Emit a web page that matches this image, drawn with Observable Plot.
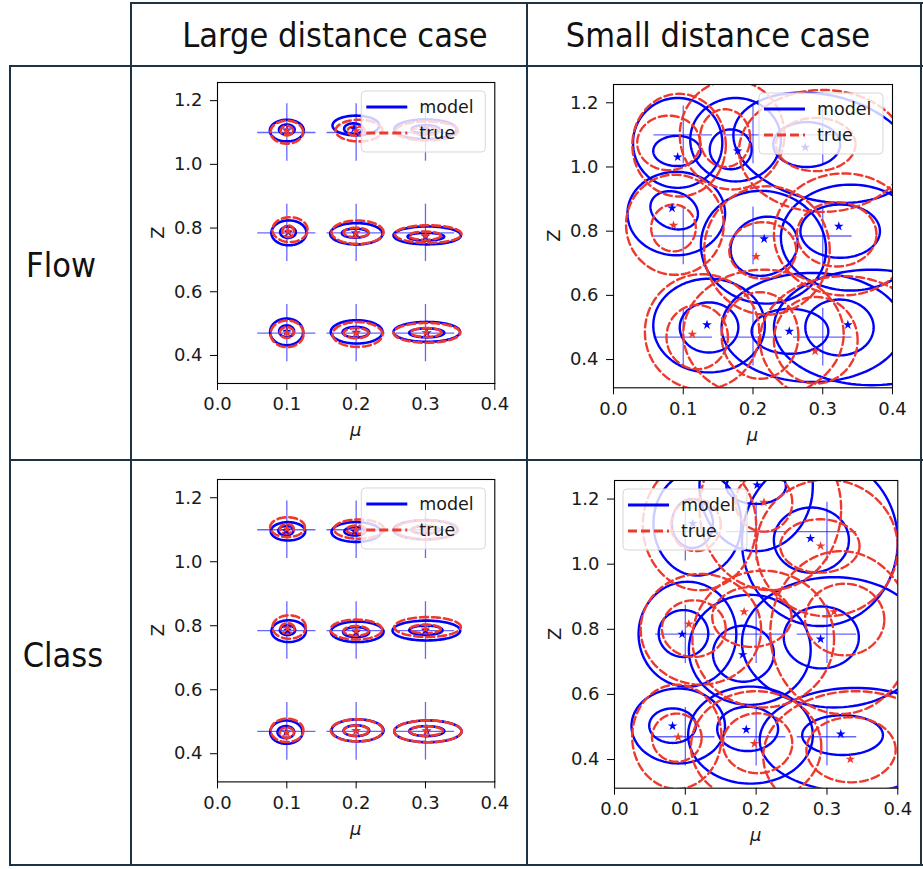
<!DOCTYPE html>
<html><head><meta charset="utf-8">
<script src="https://cdn.jsdelivr.net/npm/d3@7"></script>
<script src="https://cdn.jsdelivr.net/npm/@observablehq/plot@0.6"></script>
<style>
body{margin:0;background:#fff;}
#page{position:relative;width:923px;height:869px;overflow:hidden;background:#fff;}
.b{position:absolute;background:#1d3344;}
.hd{position:absolute;font-family:"Liberation Sans Narrow","DejaVu Sans Condensed",sans-serif;font-size:34px;color:#111;white-space:nowrap;transform:translate(-50%,-50%);}
.panel{position:absolute;}
</style></head><body><div id="page"></div>
<script>
// ---------------- data ----------------
const columnTitles = ["Large distance case", "Small distance case"];
const rowTitles = ["Flow", "Class"];
const muTicks = [0, 0.1, 0.2, 0.3, 0.4];
const zTicks = [0.4, 0.6, 0.8, 1.0, 1.2];
const gridMu = [0.1, 0.2, 0.3];
const gridZ = [0.47, 0.785, 1.1];
const armMu = 0.042, armZ = 0.09;
const legendLabels = ["model", "true"];

// contour rings: [mu, Z, radius mu, radius Z, tilt deg]
const flowLargeModelRings = [
  [0.1, 1.109, 0.0113, 0.016, 0], [0.1, 1.106, 0.0245, 0.034, 0],
  [0.196, 1.112, 0.0133, 0.0167, 0], [0.1996, 1.122, 0.0337, 0.031, 0],
  [0.3, 1.11, 0.02, 0.013, 0], [0.3, 1.11, 0.045, 0.031, 0],
  [0.1017, 0.787, 0.0113, 0.0178, 0], [0.103, 0.785, 0.0253, 0.039, 0],
  [0.1986, 0.784, 0.0192, 0.0141, 0], [0.2003, 0.782, 0.0378, 0.0335, 0],
  [0.3006, 0.773, 0.0264, 0.012, 0], [0.3025, 0.777, 0.0486, 0.0282, 0],
  [0.0997, 0.476, 0.0108, 0.0183, 0], [0.0997, 0.474, 0.0238, 0.0418, 0],
  [0.1996, 0.473, 0.0192, 0.0166, 0], [0.2007, 0.474, 0.0373, 0.0366, 0],
  [0.3018, 0.471, 0.0253, 0.0141, 0], [0.302, 0.474, 0.048, 0.0313, 0]
];
const flowLargeTrueRings = [
  [0.1, 1.106, 0.009, 0.015, 0], [0.1, 1.101, 0.0235, 0.036, 0],
  [0.2, 1.105, 0.0125, 0.015, 0], [0.204, 1.106, 0.0337, 0.034, 0],
  [0.3, 1.105, 0.019, 0.013, 0], [0.302, 1.105, 0.045, 0.03, 0],
  [0.102, 0.79, 0.0084, 0.018, 0], [0.1046, 0.795, 0.0253, 0.039, 0],
  [0.2, 0.786, 0.018, 0.015, 0], [0.202, 0.787, 0.0375, 0.0366, 0],
  [0.2994, 0.776, 0.0229, 0.013, 0], [0.304, 0.781, 0.048, 0.0277, 0],
  [0.1, 0.472, 0.01, 0.017, 0], [0.1004, 0.468, 0.0238, 0.0418, 0],
  [0.2, 0.47, 0.018, 0.016, 0], [0.202, 0.466, 0.036, 0.039, 0],
  [0.301, 0.472, 0.022, 0.014, 0], [0.302, 0.471, 0.048, 0.031, 0]
];
const classLargeModelRings = [
  [0.0986, 1.097, 0.0108, 0.0145, 0], [0.1017, 1.095, 0.0248, 0.0287, 0],
  [0.198, 1.095, 0.015, 0.013, 0], [0.2, 1.093, 0.0356, 0.031, 0],
  [0.3, 1.1, 0.02, 0.012, 0], [0.3, 1.1, 0.046, 0.03, 0],
  [0.101, 0.786, 0.011, 0.015, 0], [0.1026, 0.783, 0.0248, 0.034, 0],
  [0.2, 0.78, 0.0188, 0.0156, 0], [0.2015, 0.781, 0.038, 0.032, 0],
  [0.3006, 0.786, 0.024, 0.0146, 0], [0.3013, 0.785, 0.0488, 0.031, 0],
  [0.0986, 0.4675, 0.012, 0.0188, 0], [0.0993, 0.4675, 0.0233, 0.0365, 0],
  [0.2003, 0.472, 0.0185, 0.0167, 0], [0.202, 0.473, 0.0375, 0.0344, 0],
  [0.3018, 0.4706, 0.0253, 0.0156, 0], [0.3035, 0.47, 0.0486, 0.034, 0]
];
const classLargeTrueRings = [
  [0.1, 1.103, 0.01, 0.015, 0], [0.101, 1.108, 0.025, 0.031, 0],
  [0.2, 1.1, 0.014, 0.013, 0], [0.204, 1.102, 0.036, 0.03, 0],
  [0.3, 1.1, 0.019, 0.012, 0], [0.302, 1.1, 0.045, 0.03, 0],
  [0.101, 0.792, 0.01, 0.016, 0], [0.1033, 0.796, 0.024, 0.0365, 0],
  [0.2, 0.784, 0.018, 0.015, 0], [0.2003, 0.788, 0.0373, 0.031, 0],
  [0.3, 0.79, 0.022, 0.0135, 0], [0.303, 0.796, 0.048, 0.031, 0],
  [0.1, 0.466, 0.01, 0.016, 0], [0.1004, 0.473, 0.0235, 0.0365, 0],
  [0.2, 0.472, 0.018, 0.016, 0], [0.201, 0.473, 0.0375, 0.0344, 0],
  [0.301, 0.471, 0.024, 0.015, 0], [0.3035, 0.47, 0.0486, 0.034, 0]
];
const flowSmallModelRings = [
  [0.091, 1.05, 0.034, 0.047, 0], [0.092, 1.075, 0.064, 0.14, 0],
  [0.168, 1.055, 0.030, 0.062, 0], [0.175, 1.085, 0.065, 0.13, 0],
  [0.277, 1.07, 0.048, 0.07, 0], [0.3, 1.06, 0.13, 0.165, -12],
  [0.087, 0.865, 0.035, 0.057, -20], [0.09, 0.855, 0.07, 0.13, 0],
  [0.216, 0.753, 0.049, 0.09, 20], [0.215, 0.75, 0.09, 0.175, -10],
  [0.325, 0.80, 0.057, 0.083, 0], [0.34, 0.78, 0.1, 0.165, 0],
  [0.137, 0.50, 0.042, 0.078, 0], [0.137, 0.506, 0.08, 0.146, 0],
  [0.253, 0.488, 0.055, 0.07, 0], [0.285, 0.5, 0.13, 0.17, 0],
  [0.324, 0.50, 0.049, 0.087, 0], [0.37, 0.5, 0.14, 0.18, 0]
];
const flowSmallTrueRings = [
  [0.079, 1.075, 0.045, 0.085, 0], [0.094, 1.068, 0.067, 0.16, 0],
  [0.16, 1.09, 0.036, 0.09, 0], [0.17, 1.1, 0.075, 0.17, 0],
  [0.29, 1.07, 0.057, 0.083, 0], [0.3, 1.05, 0.12, 0.19, 0],
  [0.086, 0.81, 0.032, 0.073, 0], [0.088, 0.82, 0.07, 0.156, 0],
  [0.214, 0.74, 0.048, 0.088, 0], [0.22, 0.74, 0.09, 0.2, 0],
  [0.32, 0.79, 0.057, 0.1, 0], [0.33, 0.79, 0.1, 0.19, 0],
  [0.12, 0.47, 0.044, 0.1, 0], [0.127, 0.486, 0.082, 0.18, 0],
  [0.21, 0.475, 0.055, 0.135, 0], [0.215, 0.48, 0.115, 0.2, 0],
  [0.29, 0.46, 0.06, 0.135, 0], [0.33, 0.46, 0.12, 0.2, 0]
];
const classSmallModelRings = [
  [0.11, 1.125, 0.029, 0.075, 0], [0.117, 1.125, 0.062, 0.16, 0],
  [0.2, 1.24, 0.042, 0.055, 0], [0.2, 1.24, 0.08, 0.2, 0],
  [0.278, 1.074, 0.053, 0.1, 0], [0.29, 1.07, 0.11, 0.26, 0],
  [0.0974, 0.787, 0.035, 0.072, 0], [0.103, 0.785, 0.069, 0.161, 0],
  [0.182, 0.725, 0.043, 0.086, 0], [0.191, 0.737, 0.086, 0.169, 0],
  [0.292, 0.775, 0.053, 0.095, 0], [0.31, 0.76, 0.13, 0.2, 0],
  [0.082, 0.504, 0.033, 0.053, 0], [0.09, 0.503, 0.066, 0.115, 0],
  [0.188, 0.494, 0.043, 0.068, 0], [0.192, 0.475, 0.088, 0.149, 0],
  [0.322, 0.475, 0.057, 0.061, 0], [0.34, 0.46, 0.135, 0.16, 0]
];
const classSmallTrueRings = [
  [0.115, 1.12, 0.035, 0.08, 0], [0.12, 1.12, 0.08, 0.2, 0],
  [0.211, 1.19, 0.04, 0.09, 0], [0.22, 1.17, 0.1, 0.25, 0],
  [0.29, 1.056, 0.056, 0.082, 0], [0.3, 1.05, 0.1, 0.21, 0],
  [0.112, 0.802, 0.045, 0.087, 0], [0.122, 0.8, 0.085, 0.17, 0],
  [0.194, 0.838, 0.056, 0.092, 0], [0.21, 0.77, 0.1, 0.21, 0],
  [0.325, 0.83, 0.056, 0.11, 0], [0.32, 0.79, 0.1, 0.25, 0],
  [0.088, 0.467, 0.035, 0.074, 0], [0.088, 0.47, 0.063, 0.16, 0],
  [0.202, 0.45, 0.049, 0.092, 0], [0.2, 0.44, 0.092, 0.17, 0],
  [0.334, 0.43, 0.063, 0.1, 0], [0.34, 0.41, 0.13, 0.2, 0]
];
// star markers (cluster means): [mu, Z]
const flowLargeModelStars = [[0.1,1.108],[0.197,1.112],[0.3,1.11],[0.102,0.787],[0.199,0.784],[0.3,0.774],[0.1,0.476],[0.2,0.473],[0.302,0.471]];
const flowLargeTrueStars = [[0.1,1.105],[0.2,1.105],[0.3,1.105],[0.102,0.79],[0.2,0.786],[0.3,0.776],[0.1,0.472],[0.2,0.47],[0.301,0.472]];
const classLargeModelStars = [[0.099,1.097],[0.198,1.095],[0.3,1.1],[0.101,0.786],[0.2,0.78],[0.3,0.786],[0.099,0.468],[0.2,0.472],[0.302,0.471]];
const classLargeTrueStars = [[0.1,1.103],[0.2,1.1],[0.3,1.1],[0.101,0.792],[0.2,0.784],[0.3,0.79],[0.1,0.466],[0.2,0.472],[0.301,0.471]];
const flowSmallModelStars = [[0.092,1.031],[0.178,1.05],[0.275,1.061],[0.084,0.872],[0.216,0.776],[0.323,0.815],[0.134,0.508],[0.252,0.488],[0.336,0.508]];
const flowSmallTrueStars = [[0.086,0.818],[0.2045,0.721],[0.113,0.479],[0.289,0.426]];
const classSmallModelStars = [[0.1106,1.125],[0.2014,1.243],[0.2767,1.079],[0.0955,0.785],[0.181,0.722],[0.291,0.77],[0.082,0.503],[0.186,0.492],[0.3195,0.478]];
const classSmallTrueStars = [[0.211,1.19],[0.291,1.056],[0.105,0.816],[0.183,0.854],[0.31,0.854],[0.0899,0.469],[0.1976,0.449],[0.333,0.401]];

// ---------------- layout ----------------
const BLUE = "#0000ff", RED = "#ee3a2e", INK = "#1a1a1a", FS = 18;
const page = document.getElementById("page");
function box(l, t, w, h) { const d = document.createElement("div"); d.className = "b";
  Object.assign(d.style, {left: l + "px", top: t + "px", width: w + "px", height: h + "px"}); page.appendChild(d); }
box(130, 2, 793, 2); box(9, 65, 914, 2); box(9, 459, 914, 2); box(9, 864, 914, 2);
box(9, 65, 2, 801); box(130, 2, 2, 864); box(526, 2, 2, 864); box(920, 2, 2, 864);
function label(txt, x, y) { const d = document.createElement("div"); d.className = "hd"; d.textContent = txt;
  Object.assign(d.style, {left: x + "px", top: y + "px"}); page.appendChild(d); }
label(columnTitles[0], 335, 35); label(columnTitles[1], 718, 35);
label(rowTitles[0], 61, 265); label(rowTitles[1], 63, 655);

const SX = 700, SY = 320;
function ringPoints(rings) {
  const pts = [];
  rings.forEach((r, i) => {
    const [mu, z, rx, ry, tilt] = r, a = tilt * Math.PI / 180, N = 120;
    for (let k = 0; k <= N; k++) {
      const t = 2 * Math.PI * k / N;
      const u = rx * Math.cos(t) * SX, v = ry * Math.sin(t) * SY;
      pts.push({id: i, mu: mu + (u * Math.cos(a) - v * Math.sin(a)) / SX, z: z + (u * Math.sin(a) + v * Math.cos(a)) / SY});
    }
  });
  return pts;
}
const crosses = d3.cross(gridMu, gridZ).map(([m, z]) => ({mu: m, z}));
const fmt = d3.format(".1f");

const panels = [
  {x0: 216.7, x1: 494, y0: 81.7, y1: 382.7, m: flowLargeModelRings, t: flowLargeTrueRings, ms: flowLargeModelStars, ts: flowLargeTrueStars, leg: "right", lw: 2.6},
  {x0: 613.3, x1: 892.3, y0: 84, y1: 387.3, m: flowSmallModelRings, t: flowSmallTrueRings, ms: flowSmallModelStars, ts: flowSmallTrueStars, leg: "right", lw: 2.4},
  {x0: 216.7, x1: 494, y0: 479.3, y1: 781.7, m: classLargeModelRings, t: classLargeTrueRings, ms: classLargeModelStars, ts: classLargeTrueStars, leg: "right", lw: 2.6},
  {x0: 614, x1: 897.3, y0: 480, y1: 787.7, m: classSmallModelRings, t: classSmallTrueRings, ms: classSmallModelStars, ts: classSmallTrueStars, leg: "left", lw: 2.4}
];
const ML = 80, MR = 22, MT = 12, MB = 72;
panels.forEach(p => {
  const fw = p.x1 - p.x0, fh = p.y1 - p.y0;
  const chart = Plot.plot({
    width: fw + ML + MR, height: fh + MT + MB,
    marginLeft: ML, marginRight: MR, marginTop: MT, marginBottom: MB,
    style: {fontFamily: "DejaVu Sans", fontSize: FS + "px", color: INK, background: "transparent", overflow: "visible"},
    x: {domain: [0, 0.4]},
    y: {domain: [0.312, 1.257]},
    marks: [
      Plot.ruleY(crosses, {y: "z", x1: d => d.mu - armMu, x2: d => d.mu + armMu, stroke: BLUE, strokeOpacity: 0.6, strokeWidth: 1.3}),
      Plot.ruleX(crosses, {x: "mu", y1: d => d.z - armZ, y2: d => d.z + armZ, stroke: BLUE, strokeOpacity: 0.6, strokeWidth: 1.3}),
      Plot.line(ringPoints(p.m), {x: "mu", y: "z", z: "id", stroke: BLUE, strokeWidth: p.lw, clip: true}),
      Plot.line(ringPoints(p.t), {x: "mu", y: "z", z: "id", stroke: RED, strokeWidth: p.lw, strokeDasharray: "8,4", clip: true}),
      Plot.dot(p.ms, {x: d => d[0], y: d => d[1], symbol: "star", r: 3, fill: BLUE, stroke: null}),
      Plot.dot(p.ts, {x: d => d[0], y: d => d[1], symbol: "star", r: 3, fill: RED, stroke: null}),
      Plot.frame({stroke: "#000", strokeWidth: 1.1}),
      Plot.axisX({ticks: muTicks, tickFormat: fmt, tickSize: 7, tickPadding: 7, label: null, stroke: "#000", fontSize: FS}),
      Plot.axisY({ticks: zTicks, tickFormat: fmt, tickSize: 7, tickPadding: 8, label: null, stroke: "#000", fontSize: FS})
    ]
  });
  const wrap = document.createElement("div"); wrap.className = "panel";
  Object.assign(wrap.style, {left: (p.x0 - ML) + "px", top: (p.y0 - MT) + "px"});
  wrap.appendChild(chart); page.appendChild(wrap);
  const svg = d3.select(chart);
  svg.append("text").attr("x", ML + fw / 2).attr("y", MT + fh + 47).attr("text-anchor", "middle").attr("dominant-baseline", "central")
    .attr("font-style", "italic").attr("font-size", FS).attr("fill", INK).text("μ");
  svg.append("text").attr("transform", `translate(${ML - 60},${MT + fh / 2}) rotate(-90)`).attr("text-anchor", "middle")
    .attr("dominant-baseline", "central").attr("font-size", FS).attr("fill", INK).text("Z");
  // legend
  const lw = 124, lh = 61;
  const lx = p.leg === "right" ? ML + fw - 9 - lw : ML + 9, ly = MT + 9;
  const g = svg.append("g").attr("transform", `translate(${lx},${ly})`);
  g.append("rect").attr("width", lw).attr("height", lh).attr("rx", 4).attr("fill", "#fff").attr("fill-opacity", 0.8).attr("stroke", "#d6d6d6");
  [[BLUE, null], [RED, "9,4"]].forEach(([c, dash], i) => {
    const yy = 16 + i * 26;
    g.append("line").attr("x1", 5).attr("x2", 46).attr("y1", yy).attr("y2", yy).attr("stroke", c).attr("stroke-width", 3.2).attr("stroke-dasharray", dash);
    g.append("text").attr("x", 58).attr("y", yy).attr("text-anchor", "start").attr("dominant-baseline", "central")
      .attr("font-size", 17.5).attr("fill", INK).text(legendLabels[i]);
  });
});
</script></body></html>
